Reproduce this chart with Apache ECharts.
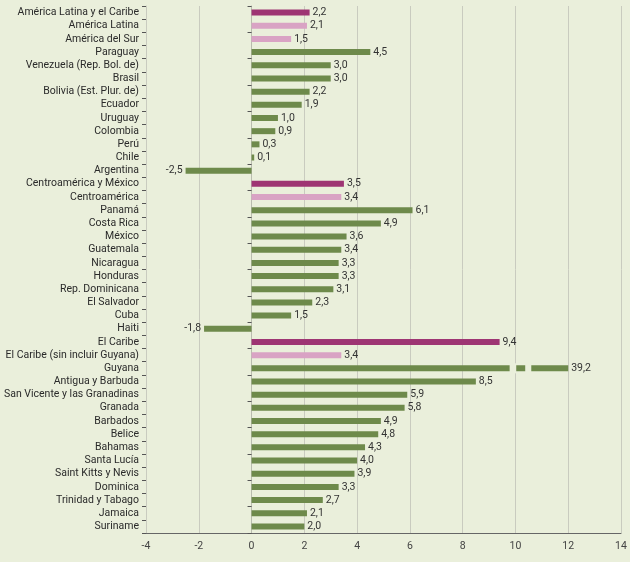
<!DOCTYPE html>
<html><head><meta charset="utf-8">
<script src="https://cdn.jsdelivr.net/npm/echarts@6/dist/echarts.min.js"></script>
<style>html,body{margin:0;padding:0;background:#eaefdb;}#c{width:630px;height:562px;}</style>
</head><body><div id="c"></div>
<script>
const categories = ["América Latina y el Caribe","América Latina","América del Sur","Paraguay","Venezuela (Rep. Bol. de)","Brasil","Bolivia (Est. Plur. de)","Ecuador","Uruguay","Colombia","Perú","Chile","Argentina","Centroamérica y México","Centroamérica","Panamá","Costa Rica","México","Guatemala","Nicaragua","Honduras","Rep. Dominicana","El Salvador","Cuba","Haiti","El Caribe","El Caribe (sin incluir Guyana)","Guyana","Antigua y Barbuda","San Vicente y las Granadinas","Granada","Barbados","Belice","Bahamas","Santa Lucía","Saint Kitts y Nevis","Dominica","Trinidad y Tabago","Jamaica","Suriname"];
const values = [2.2,2.1,1.5,4.5,3.0,3.0,2.2,1.9,1.0,0.9,0.3,0.1,-2.5,3.5,3.4,6.1,4.9,3.6,3.4,3.3,3.3,3.1,2.3,1.5,-1.8,9.4,3.4,39.2,8.5,5.9,5.8,4.9,4.8,4.3,4.0,3.9,3.3,2.7,2.1,2.0];
// group: 0 = region total, 1 = subregion, 2 = country
const groups = [0,1,1,2,2,2,2,2,2,2,2,2,2,0,1,2,2,2,2,2,2,2,2,2,2,0,1,2,2,2,2,2,2,2,2,2,2,2,2,2];
const xTicks = {min:-4, max:14, interval:2};
const barCap = 12;            // Guyana bar is drawn truncated at this value
const breakGaps = [[9.78,10.03],[10.37,10.6]]; // gaps in the truncated bar
const brokenIndex = categories.indexOf("Guyana");

const colors = ["#9e3573","#d9a3c4","#6e8a4b"];
const bg = "#eaefdb";
const font = "Roboto, 'Liberation Sans', sans-serif";
const fmt = v => v.toFixed(1).replace('.', ',');

const barData = values.map((v,i)=>({
  value: Math.min(v, barCap),
  itemStyle:{color: colors[groups[i]]},
  label:{position: v < 0 ? 'left' : 'right'}
}));

const chart = echarts.init(document.getElementById('c'));
chart.setOption({
  backgroundColor: bg,
  animation:false,
  grid:{left:146,right:9,top:6,bottom:29,containLabel:false},
  xAxis:{type:'value',min:xTicks.min,max:xTicks.max,interval:xTicks.interval,
    axisLine:{show:true,onZero:false,lineStyle:{color:'#666',width:1}},
    axisTick:{show:false},
    axisLabel:{color:'#444',fontFamily:font,fontSize:10.5,margin:8},
    splitLine:{show:true,lineStyle:{color:'#c9cbbf',width:1}}},
  yAxis:[{type:'category',data:categories,inverse:true,
    axisLine:{show:true,onZero:false,lineStyle:{color:'#c9cbbf'}},
    axisTick:{show:true,length:4,lineStyle:{color:'#555'}},
    axisLabel:{color:'#2a2a2a',fontFamily:font,fontSize:10.5,margin:7,interval:0}},
   {type:'category',data:categories,inverse:true,position:'left',
    axisLine:{show:true,onZero:true,lineStyle:{color:'#b9bcae'}},
    axisTick:{show:true,length:4,lineStyle:{color:'#555'}},
    axisLabel:{show:false}}],
  series:[{type:'bar',yAxisIndex:0,data:barData,barWidth:6,
    label:{show:true,fontFamily:font,fontSize:10.5,color:'#333',distance:3,
      formatter:p=>fmt(values[p.dataIndex])}},
   {type:'custom',yAxisIndex:0,data:breakGaps.map(g=>[g[0],g[1],brokenIndex]),z:5,
    renderItem:(params,api)=>{
      const a=api.coord([api.value(0),api.value(2)]);
      const b=api.coord([api.value(1),api.value(2)]);
      return {type:'rect',shape:{x:a[0],y:a[1]-5,width:b[0]-a[0],height:10},style:{fill:bg}};
    }}]
});
</script></body></html>
